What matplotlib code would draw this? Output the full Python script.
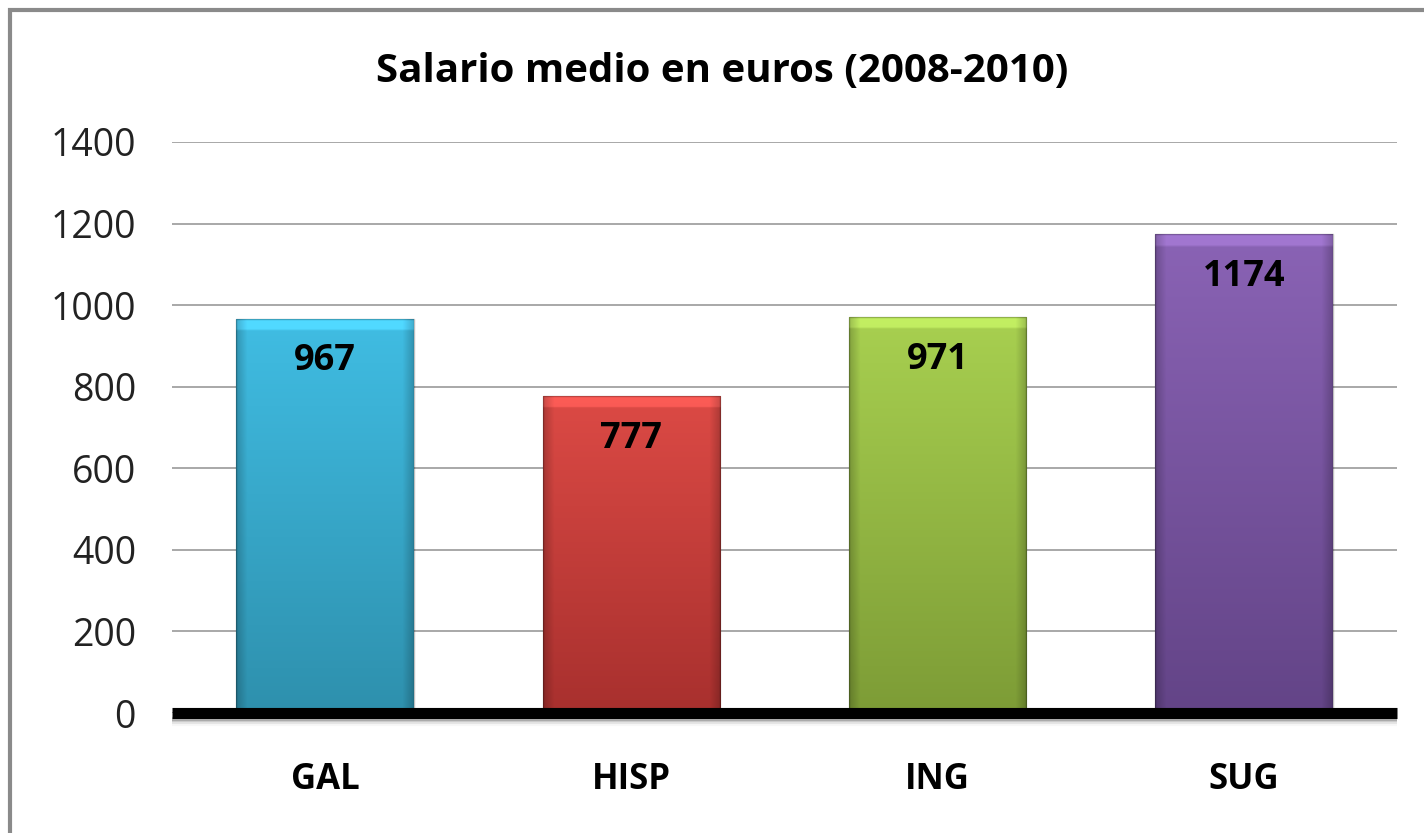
import numpy as np
import matplotlib
matplotlib.use("Agg")
import matplotlib.pyplot as plt
from matplotlib.patches import Rectangle
from matplotlib.colors import to_rgb

categories = ["GAL", "HISP", "ING", "SUG"]
values = [967, 777, 971, 1174]
yticks = [0, 200, 400, 600, 800, 1000, 1200, 1400]
title = "Salario medio en euros (2008-2010)"

top_colors = ["#40bde3", "#dc4a45", "#a8d050", "#8a63b5"]
bottom_colors = ["#2e90ad", "#a8302e", "#7d9c36", "#634487"]

plt.rcParams['font.family'] = ['Open Sans', 'DejaVu Sans']

fig = plt.figure(figsize=(14.24, 8.33), dpi=100)
ax = fig.add_axes([172/1424, 1-713/833, (1397-172)/1424, (713-142)/833])

x = np.arange(len(categories))
bars = ax.bar(x, values, width=0.58, color="none", edgecolor="none", zorder=3)

for i, p in enumerate(bars.patches):
    x0, y0 = p.get_x(), p.get_y()
    w, h = p.get_width(), p.get_height()
    c1 = np.array(to_rgb(top_colors[i]))
    c2 = np.array(to_rgb(bottom_colors[i]))
    ny, nx = 200, 100
    t = np.linspace(0, 1, ny)[:, None, None]
    img = c1 * (1 - t) + c2 * t
    img = np.repeat(img, nx, axis=1)
    xs = np.linspace(0, 1, nx)
    side = np.clip(np.minimum(xs, 1 - xs) / 0.06, 0, 1)
    shade = 0.80 + 0.20 * side
    img = img * shade[None, :, None]
    ys = np.linspace(0, 1, ny)
    top_px = 10.0 / (h * 0.408)
    topband = ys < top_px
    img[topband] = np.clip(img[topband] * 1.10 + 0.04, 0, 1)
    im = ax.imshow(img, extent=[x0, x0 + w, y0, y0 + h], origin="upper",
                   aspect="auto", zorder=3, interpolation="bilinear")
    rect = Rectangle((x0, y0), w, h, transform=ax.transData)
    im.set_clip_path(rect)
    ax.add_patch(Rectangle((x0, y0), w, h, facecolor="none",
                           edgecolor=(0, 0, 0, 0.25), linewidth=1.0, zorder=4))
    ax.text(x[i], values[i] - 105, f"{values[i]}", ha="center", va="center",
            fontsize=26, fontweight="bold", color="black", zorder=5)

ax.set_xlim(-0.5, len(categories) - 0.5)
ax.set_ylim(0, 1400)
ax.set_yticks(yticks)
ax.set_yticklabels([str(v) for v in yticks], fontsize=27, color="#222222")
ax.set_xticks(x)
ax.set_xticklabels(categories, fontsize=25, fontweight="bold", color="black")
ax.tick_params(axis="y", length=0, pad=26)
ax.tick_params(axis="x", length=0, pad=35)
ax.grid(axis="y", color="#9a9a9a", linewidth=1.2, zorder=0)
ax.set_axisbelow(True)
for s in ax.spines.values():
    s.set_visible(False)
ax.axhline(0, color="black", linewidth=8, zorder=6, solid_capstyle="butt", clip_on=False)
# soft shadow beneath the baseline
for k, a in enumerate([0.18, 0.12, 0.07, 0.03]):
    ax.axhline(-14 - 4 * k, color="black", alpha=a, linewidth=3, zorder=1,
               solid_capstyle="butt", clip_on=False)

fig.text(722/1424, 1-72/833, title, ha="center", va="center",
         fontsize=29, fontweight="bold", color="black")

border = Rectangle((10/1424, -0.05), 1.5, 1-10/833+0.05, transform=fig.transFigure,
                   facecolor="none", edgecolor="#8a8a8a", linewidth=3)
fig.patches.append(border)

fig.savefig("out.png", dpi=100)
